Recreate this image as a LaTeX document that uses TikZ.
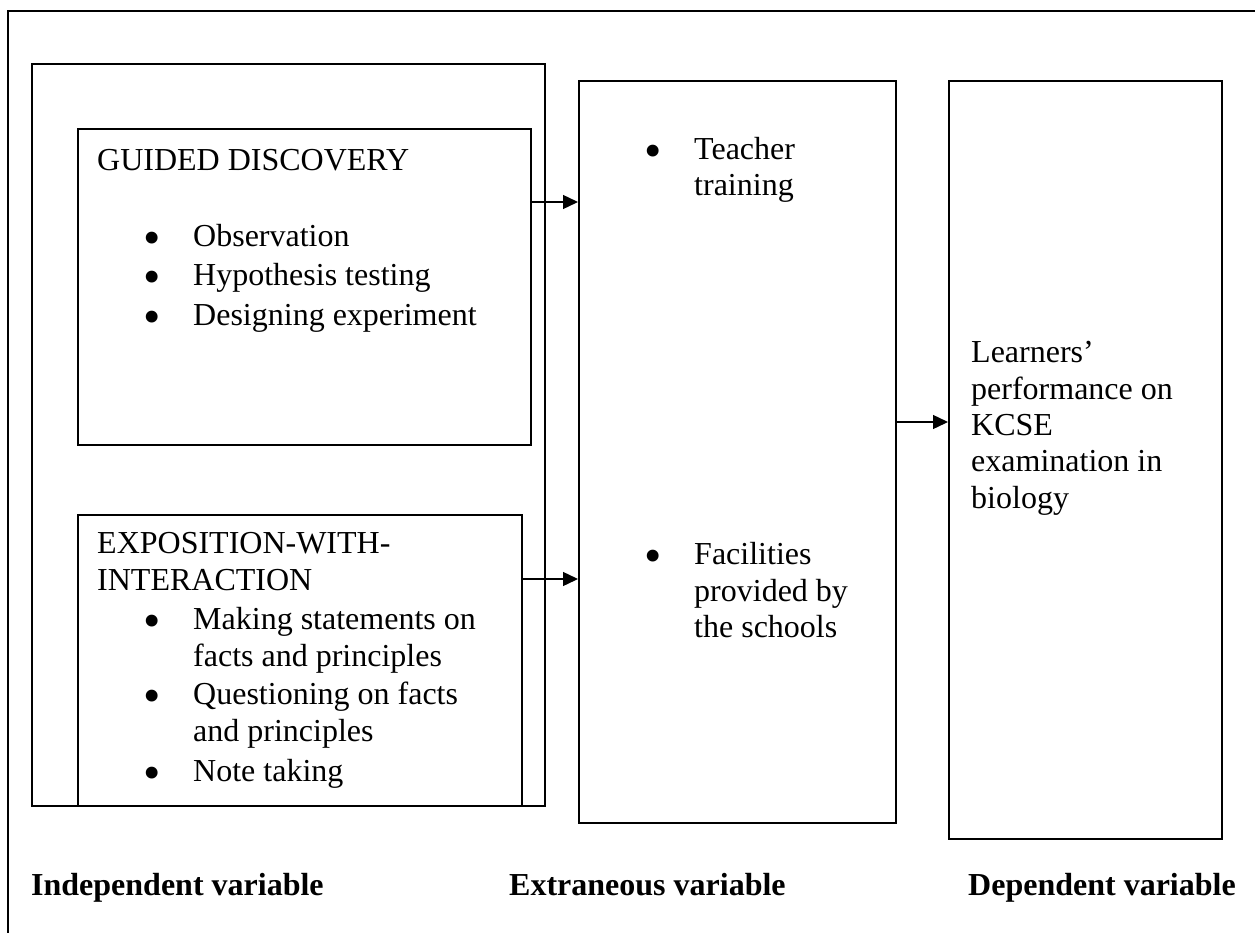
\documentclass[tikz,border=0pt]{standalone}
\usepackage{fontspec}
\setmainfont{Liberation Serif}
\usetikzlibrary{arrows.meta}
\newcommand{\bigbullet}{\smash{\raisebox{-7pt}{\scalebox{1.55}{•}}}}
\begin{document}
\begin{tikzpicture}[x=1pt,y=-1pt,
  box/.style={draw,line width=1.7pt,rectangle,inner sep=0pt,anchor=north west},
  txt/.style={anchor=base west,inner sep=0pt,font=\fontsize{32}{38}\selectfont},
  hd/.style={anchor=base west,inner sep=0pt,font=\fontsize{32}{38}\selectfont\bfseries},
  dot/.style={anchor=base,inner sep=0pt,font=\fontsize{32}{38}\selectfont},
  arr/.style={line width=1.4pt,-{Triangle[length=15pt,width=14pt]}}]
\useasboundingbox (0,0) rectangle (1255,933);

% page frame (only its top and left sides fall inside the picture)
\coordinate (fbl) at (8,933);
\coordinate (ftl) at (8,11);
\coordinate (ftr) at (1255,11);
\draw[line width=1.7pt] (fbl) -- (ftl) -- (ftr);

% boxes
\node[box,minimum width=513pt,minimum height=742pt] (indep) at (31,63) {};
\node[box,minimum width=453pt,minimum height=316pt] (gd) at (77,128) {};
\node[box,minimum width=444pt,minimum height=291pt] (ex) at (77,514) {};
\node[box,minimum width=317pt,minimum height=742pt] (ext) at (578,80) {};
\node[box,minimum width=273pt,minimum height=758pt] (dep) at (948,80) {};

% guided discovery
\node[txt] (gdt) at (97,171) {GUIDED DISCOVERY};
\node[dot] (gb1) at (152,248) {\bigbullet};
\node[txt] (gi1) at (193,247) {Observation};
\node[dot] (gb2) at (152,287) {\bigbullet};
\node[txt] (gi2) at (193,286) {Hypothesis testing};
\node[dot] (gb3) at (152,326) {\bigbullet};
\node[txt] (gi3) at (193,325) {Designing experiment};

% exposition with interaction
\node[txt] (ext1) at (97,553) {EXPOSITION-WITH-};
\node[txt] (ext2) at (97,590) {INTERACTION};
\node[dot] (eb1) at (152,630) {\bigbullet};
\node[txt] (ei1a) at (193,629) {Making statements on};
\node[txt] (ei1b) at (193,666) {facts and principles};
\node[dot] (eb2) at (152,705) {\bigbullet};
\node[txt] (ei2a) at (193,704) {Questioning on facts};
\node[txt] (ei2b) at (193,741) {and principles};
\node[dot] (eb3) at (152,782) {\bigbullet};
\node[txt] (ei3) at (193,781) {Note taking};

% extraneous variables
\node[dot] (xb1) at (653,161) {\bigbullet};
\node[txt] (xi1a) at (694,160) {Teacher};
\node[txt] (xi1b) at (694,196) {training};
\node[dot] (xb2) at (653,565) {\bigbullet};
\node[txt] (xi2a) at (694,564) {Facilities};
\node[txt] (xi2b) at (694,601) {provided by};
\node[txt] (xi2c) at (694,637) {the schools};

% dependent variable
\node[txt] (d1) at (971,362) {Learners’};
\node[txt] (d2) at (971,399) {performance on};
\node[txt] (d3) at (971,435) {KCSE};
\node[txt] (d4) at (971,471) {examination in};
\node[txt] (d5) at (971,508) {biology};

% captions
\node[hd] (cap1) at (31,895) {Independent variable};
\node[hd] (cap2) at (509,895) {Extraneous variable};
\node[hd] (cap3) at (968,895) {Dependent variable};

% connectors
\coordinate (r1) at (0,202);
\coordinate (r2) at (0,579);
\coordinate (r3) at (0,422);
\draw[arr] (gd.east |- r1) -- (ext.west |- r1);
\draw[arr] (ex.east |- r2) -- (ext.west |- r2);
\draw[arr] (ext.east |- r3) -- (dep.west |- r3);
\end{tikzpicture}
\end{document}
